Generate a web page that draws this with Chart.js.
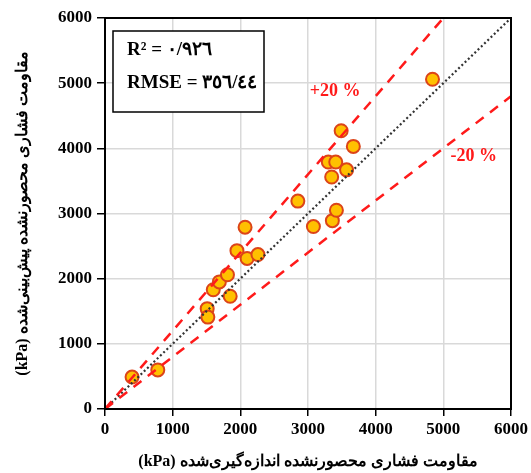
<!DOCTYPE html>
<html>
<head>
<meta charset="utf-8">
<script src="https://cdn.jsdelivr.net/npm/chart.js@4"></script>
<style>
  body { margin: 0; background: #fff; }
</style>
</head>
<body>
<canvas id="chart" width="531" height="473"></canvas>
<script>
// measured (x) vs predicted (y) unconfined compressive strength, kPa
var measured  = [400, 780, 1510, 1520, 1600, 1690, 1810, 1850, 1950, 2100, 2260, 2070, 2850, 3080, 3360, 3420, 3300, 3410, 3350, 3570, 3490, 3670, 4840]
var predicted = [490, 600, 1540, 1410, 1830, 1950, 2060, 1730, 2430, 2310, 2370, 2790, 3190, 2800, 2890, 3050, 3790, 3790, 3560, 3670, 4270, 4030, 5060]

// reference lines: 1:1, +20 %, -20 %
var lineX      = [0, 6000]
var lineY      = [0, 6000]
var upperX     = [0, 5000]
var upperY     = [0, 6000]
var lowerX     = [0, 6000]
var lowerY     = [0, 4800]

var tickValues = [0, 1000, 2000, 3000, 4000, 5000, 6000]

var statR2   = 'R² = ٠/٩٢٦'
var statRmse = 'RMSE = ٣٥٦/٤٤'
var xTitle = '(kPa) مقاومت فشاری محصورنشده اندازه‌گیری‌شده'
var yTitle = '(kPa) مقاومت فشاری محصورنشده پیش‌بینی‌شده'

function pairs(xs, ys) {
  var out = []
  for (var i = 0; i < xs.length; i++) out.push({ x: xs[i], y: ys[i] })
  return out
}

var serif = "'Liberation Serif', 'Times New Roman', 'DejaVu Serif', serif"

// frame, stats box and +/-20 % labels
var extras = {
  id: 'extras',
  afterDraw: function (chart) {
    var ctx = chart.ctx
    var a = chart.chartArea
    var xs = chart.scales.x, ys = chart.scales.y
    ctx.save()
    ctx.strokeStyle = '#000'
    ctx.lineWidth = 2
    ctx.strokeRect(a.left, a.top, a.right - a.left, a.bottom - a.top)

    ctx.fillStyle = '#fff'
    ctx.fillRect(113, 31, 151, 81)
    ctx.lineWidth = 1.5
    ctx.strokeRect(113, 31, 151, 81)

    ctx.fillStyle = '#000'
    ctx.font = 'bold 19px ' + serif
    ctx.textBaseline = 'middle'
    ctx.textAlign = 'left'
    ctx.fillText(statR2, 127, 50)
    ctx.fillText(statRmse, 127, 83)

    ctx.fillStyle = '#ff1a1a'
    ctx.font = 'bold 18px ' + serif
    ctx.textAlign = 'center'
    ctx.fillText('+20 %', xs.getPixelForValue(3400), ys.getPixelForValue(4880))
    ctx.fillText('-20 %', xs.getPixelForValue(5450), ys.getPixelForValue(3870))
    ctx.restore()
  }
}

var axisTicks = {
  color: '#000',
  font: { family: serif, size: 17, weight: 'bold' },
  autoSkip: false,
  maxRotation: 0,
  callback: function (v) { return String(v) }
}

new Chart(document.getElementById('chart'), {
  type: 'scatter',
  data: {
    datasets: [
      {
        type: 'line',
        data: pairs(upperX, upperY),
        borderColor: '#ff1a1a',
        borderWidth: 2.5,
        borderDash: [10, 8],
        pointRadius: 0,
        fill: false
      },
      {
        type: 'line',
        data: pairs(lowerX, lowerY),
        borderColor: '#ff1a1a',
        borderWidth: 2.5,
        borderDash: [10, 8],
        pointRadius: 0,
        fill: false
      },
      {
        type: 'line',
        data: pairs(lineX, lineY),
        borderColor: '#333',
        borderWidth: 2.2,
        borderDash: [2, 2.5],
        pointRadius: 0,
        fill: false
      },
      {
        data: pairs(measured, predicted),
        backgroundColor: '#ffc000',
        borderColor: '#dc4418',
        borderWidth: 2,
        pointRadius: 6.5
      }
    ]
  },
  options: {
    responsive: false,
    animation: false,
    layout: { padding: { top: 18, right: 17, left: 0, bottom: 0 } },
    plugins: { legend: { display: false }, tooltip: { enabled: false } },
    scales: {
      x: {
        type: 'linear',
        min: 0,
        max: 6000,
        afterBuildTicks: function (s) { s.ticks = tickValues.map(function (v) { return { value: v } }) },
        afterFit: function (s) { s.height = 64 },
        ticks: Object.assign({ padding: 3 }, axisTicks),
        grid: { color: '#d9d9d9', lineWidth: 1.5, tickColor: '#000', tickLength: 7, tickWidth: 1.5 },
        border: { color: '#000', width: 2 },
        title: {
          display: true,
          text: xTitle,
          color: '#000',
          font: { family: serif, size: 16, weight: 'bold' },
          padding: { top: 0, bottom: 2 }
        }
      },
      y: {
        type: 'linear',
        min: 0,
        max: 6000,
        afterBuildTicks: function (s) { s.ticks = tickValues.map(function (v) { return { value: v } }) },
        afterFit: function (s) { s.width = 105 },
        ticks: Object.assign({ padding: 5 }, axisTicks),
        grid: { color: '#d9d9d9', lineWidth: 1.5, tickColor: '#000', tickLength: 8, tickWidth: 1.5 },
        border: { color: '#000', width: 2 },
        title: {
          display: true,
          text: yTitle,
          color: '#000',
          font: { family: serif, size: 16, weight: 'bold' },
          padding: { top: 13, bottom: 0 }
        }
      }
    }
  },
  plugins: [extras]
})
</script>
</body>
</html>
